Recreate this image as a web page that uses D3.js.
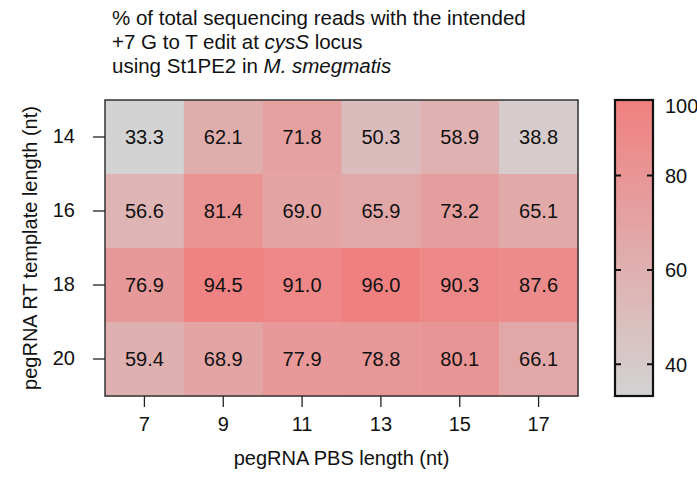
<!DOCTYPE html>
<html>
<head>
<meta charset="utf-8">
<script src="https://cdn.jsdelivr.net/npm/d3@7"></script>
<style>
  body { margin: 0; background: #fff; }
  text { font-family: "Liberation Sans", Arial, sans-serif; fill: #111; }
</style>
</head>
<body>
<div id="chart"></div>
<script>
// PBS lengths (columns) and RT template lengths (rows)
const pbsLengths = [7, 9, 11, 13, 15, 17];
const rtLengths = [14, 16, 18, 20];

// % edited reads, one array per RT template length
const rt14 = [33.3, 62.1, 71.8, 50.3, 58.9, 38.8];
const rt16 = [56.6, 81.4, 69.0, 65.9, 73.2, 65.1];
const rt18 = [76.9, 94.5, 91.0, 96.0, 90.3, 87.6];
const rt20 = [59.4, 68.9, 77.9, 78.8, 80.1, 66.1];
const rows = [rt14, rt16, rt18, rt20];

const legendTicks = [40, 60, 80, 100];

const width = 697, height = 479;
const plot = { left: 105, top: 100, right: 578, bottom: 396 };
const bar = { left: 615, right: 653 };
const fs = "20px";

const svg = d3.select("#chart").append("svg")
    .attr("width", width)
    .attr("height", height);

const cells = [];
rows.forEach((vals, i) => {
  vals.forEach((v, j) => cells.push({ rt: rtLengths[i], pbs: pbsLengths[j], value: v }));
});

const vmin = d3.min(cells, d => d.value), vmax = d3.max(cells, d => d.value);

const x = d3.scaleBand().domain(pbsLengths).range([plot.left, plot.right]);
const y = d3.scaleBand().domain(rtLengths).range([plot.top, plot.bottom]);
const color = d3.scaleLinear().domain([vmin, vmax]).range(["#d3d3d3", "#f08080"])
    .interpolate(d3.interpolateRgb);

// title
const tx = 112;
const title = svg.append("text").attr("x", tx).attr("y", 25).style("font-size", "20.5px");
title.append("tspan").attr("x", tx).text("% of total sequencing reads with the intended");
const l2 = title.append("tspan").attr("x", tx).attr("dy", 24);
l2.append("tspan").text("+7 G to T edit at ");
l2.append("tspan").style("font-style", "italic").text("cysS");
l2.append("tspan").text(" locus");
const l3 = title.append("tspan").attr("x", tx).attr("dy", 24);
l3.append("tspan").text("using St1PE2 in ");
l3.append("tspan").style("font-style", "italic").text("M. smegmatis");

// cells
svg.append("g").selectAll("rect")
  .data(cells)
  .join("rect")
    .attr("x", d => x(d.pbs))
    .attr("y", d => y(d.rt))
    .attr("width", x.bandwidth() + 0.5)
    .attr("height", y.bandwidth() + 0.5)
    .attr("fill", d => color(d.value));

svg.append("g").selectAll("text")
  .data(cells)
  .join("text")
    .attr("x", d => x(d.pbs) + x.bandwidth() / 2)
    .attr("y", d => y(d.rt) + y.bandwidth() / 2)
    .attr("text-anchor", "middle")
    .attr("dy", "0.36em")
    .style("font-size", fs)
    .text(d => d.value.toFixed(1));

svg.append("rect")
    .attr("x", plot.left).attr("y", plot.top)
    .attr("width", plot.right - plot.left).attr("height", plot.bottom - plot.top)
    .attr("fill", "none").attr("stroke", "#333").attr("stroke-width", 1.5);

// axes
const xAxis = svg.append("g")
    .attr("transform", `translate(0,${plot.bottom})`)
    .call(d3.axisBottom(x).tickSize(11).tickPadding(10));
const yAxis = svg.append("g")
    .attr("transform", `translate(${plot.left},0)`)
    .call(d3.axisLeft(y).tickSize(12).tickPadding(18));
[xAxis, yAxis].forEach(a => {
  a.select(".domain").remove();
  a.selectAll("line").attr("stroke", "#222").attr("stroke-width", 1.3);
  a.selectAll("text").style("font-size", fs).attr("font-family", null).attr("fill", "#111");
});

svg.append("text")
    .attr("x", (plot.left + plot.right) / 2).attr("y", 465)
    .attr("text-anchor", "middle").style("font-size", fs)
    .text("pegRNA PBS length (nt)");
svg.append("text")
    .attr("transform", `translate(37,${(plot.top + plot.bottom) / 2}) rotate(-90)`)
    .attr("text-anchor", "middle").style("font-size", fs)
    .text("pegRNA RT template length (nt)");

// colour bar
const barScale = d3.scaleLinear().domain([vmin, vmax]).range([plot.bottom, plot.top]);
const defs = svg.append("defs");
const grad = defs.append("linearGradient").attr("id", "grad")
    .attr("x1", 0).attr("y1", 1).attr("x2", 0).attr("y2", 0);
grad.append("stop").attr("offset", 0).attr("stop-color", color(vmin));
grad.append("stop").attr("offset", 1).attr("stop-color", color(vmax));

svg.append("rect")
    .attr("x", bar.left).attr("y", plot.top)
    .attr("width", bar.right - bar.left).attr("height", plot.bottom - plot.top)
    .attr("fill", "url(#grad)")
    .attr("stroke", "#111").attr("stroke-width", 2.2);

const inside = legendTicks.filter(t => t >= vmin && t <= vmax);
svg.append("g").selectAll("path")
  .data(inside)
  .join("path")
    .attr("d", t => `M${bar.left},${barScale(t)}h6M${bar.right},${barScale(t)}h-6`)
    .attr("stroke", "#111").attr("stroke-width", 2);

svg.append("g").selectAll("text")
  .data(legendTicks)
  .join("text")
    .attr("x", 665)
    .attr("y", t => Math.max(barScale(t), plot.top + 6))
    .attr("dy", "0.36em")
    .style("font-size", fs)
    .text(t => t);
</script>
</body>
</html>
